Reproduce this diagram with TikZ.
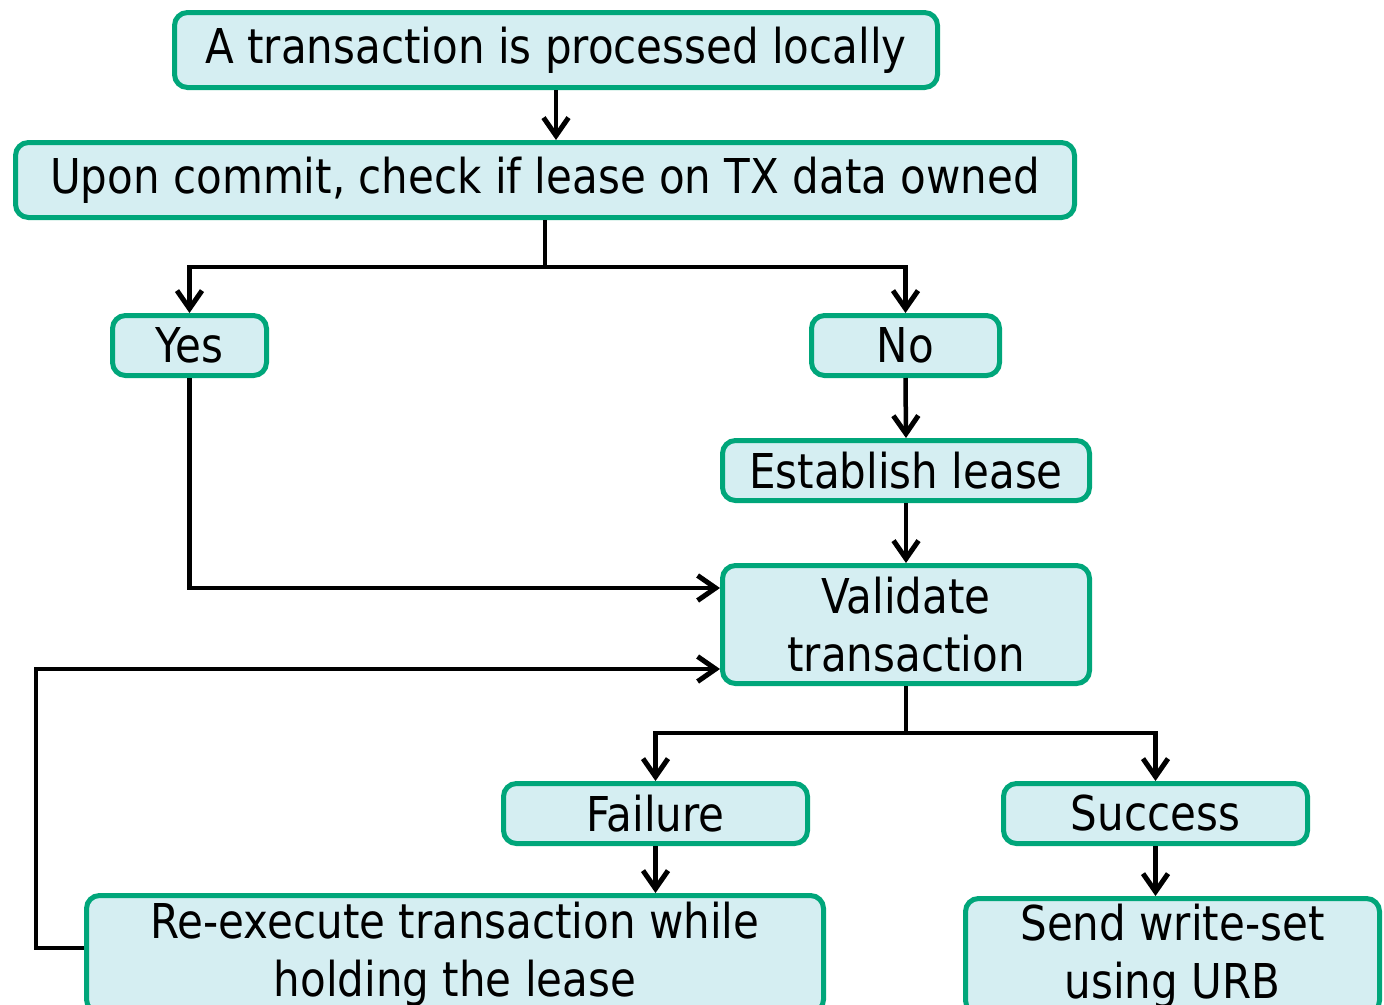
\documentclass[tikz,border=0pt]{standalone}
\usepackage{fontspec}
\setmainfont[FakeStretch=0.875]{DejaVu Sans}
\usetikzlibrary{arrows.meta,calc}
\definecolor{boxfill}{HTML}{D5EEF2}
\definecolor{boxline}{HTML}{00A67A}
\tikzset{
  x=1pt, y=-1pt,
  flowbox/.style={draw=boxline, fill=boxfill, line width=5pt, rounded corners=13pt,
    inner sep=0pt, align=center, font=\fontsize{48}{58}\selectfont},
  arr/.style={draw=black, line width=4.5pt, -{Straight Barb[length=18pt,width=25pt,line width=5pt]}},
}
\begin{document}
\begin{tikzpicture}
\useasboundingbox (0,0) rectangle (1384,1004);
\clip (0,0) rectangle (1384,1004);

% boxes
\node[flowbox, minimum width=763pt, minimum height=75pt] (local) at (556,50) {\raisebox{-4pt}{A transaction is processed locally}};
\node[flowbox, minimum width=1059pt, minimum height=75pt] (check) at (545,180) {\raisebox{-3pt}{Upon commit, check if lease on TX data owned}};
\node[flowbox, minimum width=154pt, minimum height=60pt] (yes) at (189.5,345.5) {\raisebox{-2pt}{Yes}};
\node[flowbox, minimum width=188pt, minimum height=60pt] (no) at (905.5,345.5) {\raisebox{-2pt}{No}};
\node[flowbox, minimum width=367pt, minimum height=60pt] (lease) at (906,470.5) {Establish lease};
\node[flowbox, minimum width=367pt, minimum height=118pt] (valid) at (906,624.5) {Validate\\transaction};
\node[flowbox, minimum width=304pt, minimum height=60pt] (fail) at (655.5,813.5) {\raisebox{-2pt}{Failure}};
\node[flowbox, minimum width=304pt, minimum height=60pt] (succ) at (1155.5,813.5) {\raisebox{-2pt}{Success}};
\node[flowbox, minimum width=737pt, minimum height=117pt] (redo) at (455,954) {Re-execute transaction while\\holding the lease};
\node[flowbox, minimum width=414pt, minimum height=115pt] (send) at (1172.5,956) {Send write-set\\using URB};

% connectors
\draw[arr] (local.south) -- (local.south |- check.north);
\draw[arr] (check.south) -- ++(0,47) -| (yes.north);
\draw[arr] (check.south) -- ++(0,47) -| (no.north);
\draw[arr] (no.south) -- (lease.north);
\draw[arr] (lease.south) -- (valid.north);
\draw[arr] (yes.south) |- ($(valid.west)+(0,-36.5)$);
\draw[arr] ($(redo.west)+(0,-6)$) -- ++(-48,0) |- ($(valid.west)+(0,44.5)$);
\draw[arr] (valid.south) -- ++(0,47) -| (fail.north);
\draw[arr] (valid.south) -- ++(0,47) -| (succ.north);
\draw[arr] (fail.south) -- (fail.south |- redo.north);
\draw[arr] (succ.south) -- (succ.south |- send.north);
\end{tikzpicture}
\end{document}
